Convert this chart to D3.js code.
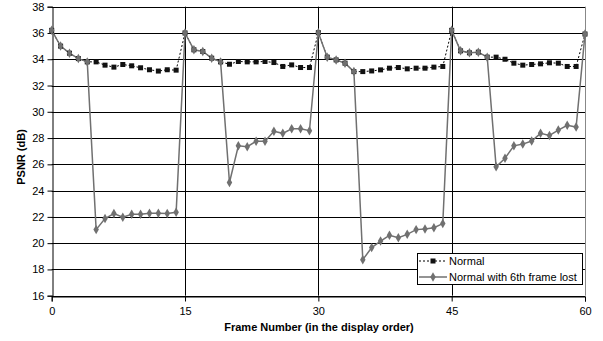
<!DOCTYPE html>
<html><head><meta charset="utf-8">
<script src="https://cdn.jsdelivr.net/npm/d3@7"></script>
<style>body{margin:0;background:#fff}svg{display:block;font-family:"Liberation Sans",Arial,sans-serif}</style>
</head><body><svg id="c" width="603" height="341"></svg>
<script>
const frames = [0,1,2,3,4,5,6,7,8,9,10,11,12,13,14,15,16,17,18,19,20,21,22,23,24,25,26,27,28,29,30,31,32,33,34,35,36,37,38,39,40,41,42,43,44,45,46,47,48,49,50,51,52,53,54,55,56,57,58,59,60];
const normal = [36.2,35.0,34.46,34.05,33.8,33.8,33.55,33.4,33.6,33.5,33.35,33.2,33.1,33.2,33.17,
  36.0,34.72,34.59,34.08,33.8,33.62,33.83,33.8,33.8,33.83,33.75,33.45,33.57,33.37,33.37,
  36.02,34.16,33.95,33.7,33.06,33.06,33.11,33.19,33.32,33.37,33.27,33.32,33.32,33.4,33.45,
  36.2,34.64,34.49,34.54,34.16,34.16,34.0,33.7,33.55,33.6,33.65,33.73,33.7,33.45,33.45,35.92];
const lost = [36.2,35.0,34.46,34.05,33.8,21.03,21.87,22.25,21.97,22.2,22.2,22.27,22.27,22.25,22.35,
  36.0,34.72,34.59,34.08,33.8,24.62,27.41,27.34,27.75,27.75,28.51,28.36,28.71,28.71,28.56,
  36.02,34.16,33.95,33.7,33.06,18.74,19.66,20.16,20.6,20.42,20.67,21.03,21.08,21.18,21.49,
  36.2,34.64,34.49,34.54,34.16,25.81,26.47,27.41,27.54,27.77,28.36,28.2,28.61,28.97,28.84,35.92];
const yTicks = [16,18,20,22,24,26,28,30,32,34,36,38];
const xTicks = [0,15,30,45,60];
const seriesNames = ["Normal","Normal with 6th frame lost"];

const svg = d3.select("#c");
const x = d3.scaleLinear().domain([0,60]).range([51.7,585]);
const y = d3.scaleLinear().domain([16,38]).range([295.7,6.7]);

// horizontal gridlines
svg.append("g").selectAll("line").data(yTicks).join("line")
  .attr("x1",x(0)).attr("x2",x(60)).attr("y1",d=>Math.round(y(d))+0.5).attr("y2",d=>Math.round(y(d))+0.5)
  .attr("stroke","#000").attr("stroke-width",1);
// vertical gridlines
svg.append("g").selectAll("line").data(xTicks.slice(1)).join("line")
  .attr("x1",d=>Math.round(x(d))+0.5).attr("x2",d=>Math.round(x(d))+0.5).attr("y1",y(38)).attr("y2",y(16))
  .attr("stroke",d=>d===60?"#888":"#000").attr("stroke-width",1);

// axes
const yAxis = svg.append("g").attr("transform",`translate(${Math.round(x(0))+0.5},0)`)
  .call(d3.axisLeft(y).tickValues(yTicks).tickSize(5).tickPadding(3).tickFormat(d3.format("d")));
const xAxis = svg.append("g").attr("transform",`translate(0,${Math.round(y(16))+0.5})`)
  .call(d3.axisBottom(x).tickValues(xTicks).tickSize(5).tickPadding(6).tickFormat(d3.format("d")));
[yAxis,xAxis].forEach(a=>{
  a.select(".domain").attr("stroke","#000");
  a.selectAll(".tick line").attr("stroke","#000");
  a.selectAll("text").attr("fill","#000").style("font-size","11px").style("font-family",'"Liberation Sans",Arial,sans-serif');
});
yAxis.selectAll(".tick line").attr("transform",null);

// series lines
const line = vals => d3.line().x((d,i)=>x(frames[i])).y(d=>y(d))(vals);
svg.append("path").attr("d",line(normal)).attr("fill","none").attr("stroke","#000")
  .attr("stroke-width",1).attr("stroke-dasharray","2,2");
svg.append("path").attr("d",line(lost)).attr("fill","none").attr("stroke","#707070").attr("stroke-width",1.5);

// markers
svg.append("g").selectAll("rect").data(normal).join("rect")
  .attr("x",(d,i)=>x(frames[i])-2.5).attr("y",d=>y(d)-2.5).attr("width",5).attr("height",5).attr("fill","#111");
const diamond = d3.symbol().type(d3.symbolDiamond).size(26);
svg.append("g").selectAll("path").data(lost).join("path")
  .attr("d",diamond).attr("transform",(d,i)=>`translate(${x(frames[i])},${y(d)})`).attr("fill","#707070");

// axis titles
svg.append("text").attr("x",319).attr("y",331).attr("text-anchor","middle")
  .style("font-size","11px").style("font-weight","bold").text("Frame Number (in the display order)");
svg.append("text").attr("transform","translate(25,157) rotate(-90)").attr("text-anchor","middle")
  .style("font-size","11px").style("font-weight","bold").text("PSNR (dB)");

// legend
const lg = svg.append("g");
lg.append("rect").attr("x",417.5).attr("y",253.5).attr("width",165).attr("height",31)
  .attr("fill","#fff").attr("stroke","#000").attr("stroke-width",1);
const ly = [261,277];
lg.append("line").attr("x1",419).attr("x2",447).attr("y1",ly[0]).attr("y2",ly[0]).attr("stroke","#000").attr("stroke-dasharray","2,2");
lg.append("rect").attr("x",430.5).attr("y",ly[0]-2.5).attr("width",5).attr("height",5).attr("fill","#111");
lg.append("line").attr("x1",419).attr("x2",447).attr("y1",ly[1]).attr("y2",ly[1]).attr("stroke","#707070").attr("stroke-width",1.5);
lg.append("path").attr("d",diamond).attr("transform",`translate(433,${ly[1]})`).attr("fill","#707070");
lg.selectAll("text").data(seriesNames).join("text").attr("x",449).attr("y",(d,i)=>ly[i]+4)
  .style("font-size","11px").text(d=>d);
</script></body></html>
